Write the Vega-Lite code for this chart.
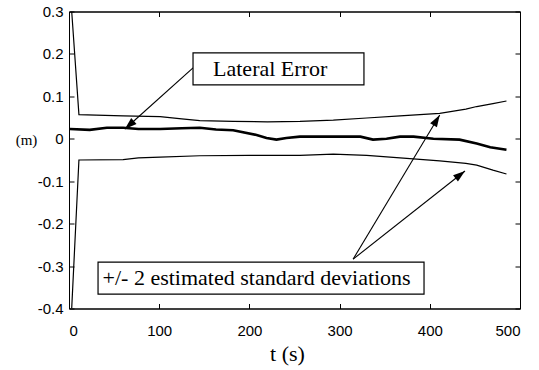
{
  "$schema": "https://vega.github.io/schema/vega-lite/v6.json",
  "autosize": "none",
  "width": 451,
  "height": 297,
  "padding": {"left": 69, "top": 11.5, "right": 19, "bottom": 61.5},
  "background": "white",
  "config": {
    "view": {"stroke": "black", "strokeWidth": 1},
    "axis": {
      "grid": false,
      "domainColor": "black",
      "tickColor": "black",
      "labelColor": "black",
      "titleColor": "black",
      "labelFont": "Liberation Sans",
      "labelFontSize": 15,
      "titleFont": "Liberation Serif",
      "titleFontWeight": "normal",
      "tickSize": -5
    }
  },
  "datasets": {
    "series": [
      {"t": 3, "v": 0.3, "s": "upper"},
      {"t": 11, "v": 0.057, "s": "upper"},
      {"t": 30, "v": 0.056, "s": "upper"},
      {"t": 60, "v": 0.054, "s": "upper"},
      {"t": 101, "v": 0.052, "s": "upper"},
      {"t": 125, "v": 0.047, "s": "upper"},
      {"t": 145, "v": 0.043, "s": "upper"},
      {"t": 182, "v": 0.041, "s": "upper"},
      {"t": 220, "v": 0.040, "s": "upper"},
      {"t": 256, "v": 0.041, "s": "upper"},
      {"t": 293, "v": 0.044, "s": "upper"},
      {"t": 330, "v": 0.049, "s": "upper"},
      {"t": 367, "v": 0.054, "s": "upper"},
      {"t": 411, "v": 0.060, "s": "upper"},
      {"t": 440, "v": 0.070, "s": "upper"},
      {"t": 452, "v": 0.076, "s": "upper"},
      {"t": 470, "v": 0.083, "s": "upper"},
      {"t": 485, "v": 0.089, "s": "upper"},
      {"t": 3, "v": -0.4, "s": "lower"},
      {"t": 11, "v": -0.050, "s": "lower"},
      {"t": 60, "v": -0.049, "s": "lower"},
      {"t": 77, "v": -0.045, "s": "lower"},
      {"t": 101, "v": -0.043, "s": "lower"},
      {"t": 145, "v": -0.040, "s": "lower"},
      {"t": 200, "v": -0.039, "s": "lower"},
      {"t": 256, "v": -0.039, "s": "lower"},
      {"t": 293, "v": -0.036, "s": "lower"},
      {"t": 330, "v": -0.039, "s": "lower"},
      {"t": 367, "v": -0.045, "s": "lower"},
      {"t": 411, "v": -0.052, "s": "lower"},
      {"t": 440, "v": -0.058, "s": "lower"},
      {"t": 452, "v": -0.062, "s": "lower"},
      {"t": 470, "v": -0.074, "s": "lower"},
      {"t": 485, "v": -0.083, "s": "lower"},
      {"t": 1, "v": 0.023, "s": "lateral"},
      {"t": 23, "v": 0.021, "s": "lateral"},
      {"t": 42, "v": 0.026, "s": "lateral"},
      {"t": 60, "v": 0.026, "s": "lateral"},
      {"t": 77, "v": 0.023, "s": "lateral"},
      {"t": 101, "v": 0.023, "s": "lateral"},
      {"t": 125, "v": 0.025, "s": "lateral"},
      {"t": 145, "v": 0.026, "s": "lateral"},
      {"t": 163, "v": 0.022, "s": "lateral"},
      {"t": 182, "v": 0.020, "s": "lateral"},
      {"t": 208, "v": 0.009, "s": "lateral"},
      {"t": 219, "v": 0.002, "s": "lateral"},
      {"t": 230, "v": -0.002, "s": "lateral"},
      {"t": 241, "v": 0.002, "s": "lateral"},
      {"t": 256, "v": 0.005, "s": "lateral"},
      {"t": 293, "v": 0.005, "s": "lateral"},
      {"t": 323, "v": 0.005, "s": "lateral"},
      {"t": 337, "v": -0.002, "s": "lateral"},
      {"t": 352, "v": 0.0, "s": "lateral"},
      {"t": 367, "v": 0.005, "s": "lateral"},
      {"t": 382, "v": 0.005, "s": "lateral"},
      {"t": 404, "v": 0.0, "s": "lateral"},
      {"t": 433, "v": -0.002, "s": "lateral"},
      {"t": 452, "v": -0.011, "s": "lateral"},
      {"t": 467, "v": -0.020, "s": "lateral"},
      {"t": 485, "v": -0.026, "s": "lateral"}
    ],
    "boxes": [
      {"label": "Lateral Error", "t1": 137.5, "t2": 327, "v1": 0.2025, "v2": 0.127, "tc": 223, "vc": 0.165},
      {"label": "+/- 2 estimated standard deviations", "t1": 32.2, "t2": 393.6, "v1": -0.2907, "v2": -0.3663, "tc": 208, "vc": -0.3285}
    ],
    "arrows": [
      {"id": "a", "t1": 137.5, "v1": 0.167, "t2": 62, "v2": 0.023},
      {"id": "b", "t1": 315, "v1": -0.2837, "t2": 411, "v2": 0.056},
      {"id": "c", "t1": 315, "v1": -0.2837, "t2": 439, "v2": -0.076}
    ]
  },
  "resolve": {"axis": {"x": "independent", "y": "independent"}},
  "layer": [
    {
      "mark": {"type": "rule", "color": "#8a8a8a", "strokeWidth": 1},
      "encoding": {"y": {"datum": 0, "type": "quantitative", "axis": null}}
    },
    {
      "data": {"name": "series"},
      "transform": [{"filter": "datum.s !== 'lateral'"}],
      "mark": {"type": "line", "color": "black", "strokeWidth": 1.2, "clip": true},
      "encoding": {
        "x": {
          "field": "t", "type": "quantitative",
          "scale": {"domain": [0, 500], "nice": false, "zero": false},
          "axis": {
            "values": [0, 100, 200, 300, 400, 500],
            "title": "t (s)",
            "titleFontSize": 22,
            "titleX": 218,
            "titleY": 52,
            "titleBaseline": "alphabetic",
            "labelPadding": 20,
            "labelFontSize": 15
          }
        },
        "y": {
          "field": "v", "type": "quantitative",
          "scale": {"domain": [-0.4, 0.3], "nice": false, "zero": false},
          "axis": {
            "values": [-0.4, -0.3, -0.2, -0.1, 0, 0.1, 0.2, 0.3],
            "labelExpr": "datum.value < -0.00001 ? '-' + format(-datum.value, '.1~f') : format(abs(datum.value) < 0.00001 ? 0 : datum.value, '.1~f')",
            "title": "(m)",
            "titleAngle": 0,
            "titleFontSize": 15,
            "titleX": -43,
            "titleY": 128,
            "titleAlign": "center",
            "titleBaseline": "middle",
            "labelPadding": 11
          }
        },
        "detail": {"field": "s"}
      }
    },
    {
      "data": {"name": "series"},
      "transform": [{"filter": "datum.s === 'lateral'"}],
      "mark": {"type": "line", "color": "black", "strokeWidth": 2.6},
      "encoding": {
        "x": {"field": "t", "type": "quantitative",
          "axis": {"orient": "top", "labels": false, "title": null, "values": [0, 100, 200, 300, 400, 500]}},
        "y": {"field": "v", "type": "quantitative",
          "axis": {"orient": "right", "labels": false, "title": null, "values": [-0.4, -0.3, -0.2, -0.1, 0, 0.1, 0.2, 0.3]}}
      }
    },
    {
      "data": {"name": "arrows"},
      "mark": {"type": "rule", "color": "black", "strokeWidth": 1.1},
      "encoding": {
        "x": {"field": "t1", "type": "quantitative", "axis": null},
        "y": {"field": "v1", "type": "quantitative", "axis": null},
        "x2": {"field": "t2"},
        "y2": {"field": "v2"}
      }
    },
    {
      "data": {"name": "arrows"},
      "transform": [{"filter": "datum.id === 'a'"}],
      "mark": {"type": "point", "shape": "M0,0L-0.33,1L0.33,1Z", "size": 576, "filled": true, "color": "black", "opacity": 1, "angle": 228},
      "encoding": {
        "x": {"field": "t2", "type": "quantitative", "axis": null},
        "y": {"field": "v2", "type": "quantitative", "axis": null}
      }
    },
    {
      "data": {"name": "arrows"},
      "transform": [{"filter": "datum.id === 'b'"}],
      "mark": {"type": "point", "shape": "M0,0L-0.33,1L0.33,1Z", "size": 576, "filled": true, "color": "black", "opacity": 1, "angle": 31},
      "encoding": {
        "x": {"field": "t2", "type": "quantitative", "axis": null},
        "y": {"field": "v2", "type": "quantitative", "axis": null}
      }
    },
    {
      "data": {"name": "arrows"},
      "transform": [{"filter": "datum.id === 'c'"}],
      "mark": {"type": "point", "shape": "M0,0L-0.33,1L0.33,1Z", "size": 576, "filled": true, "color": "black", "opacity": 1, "angle": 52},
      "encoding": {
        "x": {"field": "t2", "type": "quantitative", "axis": null},
        "y": {"field": "v2", "type": "quantitative", "axis": null}
      }
    },
    {
      "data": {"name": "boxes"},
      "mark": {"type": "rect", "fill": "white", "stroke": "black", "strokeWidth": 1.2},
      "encoding": {
        "x": {"field": "t1", "type": "quantitative", "axis": null},
        "x2": {"field": "t2"},
        "y": {"field": "v1", "type": "quantitative", "axis": null},
        "y2": {"field": "v2"}
      }
    },
    {
      "data": {"name": "boxes"},
      "mark": {"type": "text", "font": "Liberation Serif", "fontSize": 22, "color": "black", "align": "center", "baseline": "middle"},
      "encoding": {
        "x": {"field": "tc", "type": "quantitative", "axis": null},
        "y": {"field": "vc", "type": "quantitative", "axis": null},
        "text": {"field": "label"}
      }
    }
  ]
}
